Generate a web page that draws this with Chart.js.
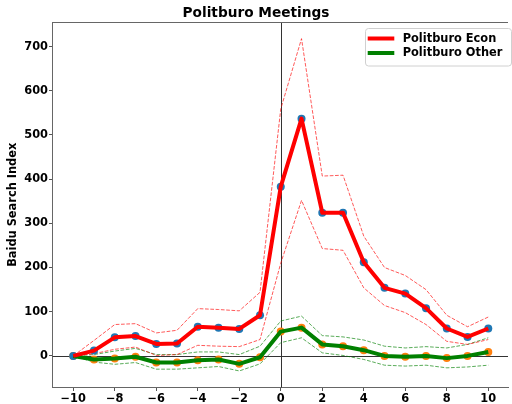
<!DOCTYPE html>
<html>
<head>
<meta charset="utf-8">
<script src="https://cdn.jsdelivr.net/npm/chart.js@4/dist/chart.umd.min.js"></script>
<style>
html,body{margin:0;padding:0;background:#fff;overflow:hidden;}
#wrap{width:512px;height:404px;position:relative;}
</style>
</head>
<body>
<div id="wrap"><canvas id="c" width="512" height="404"></canvas></div>
<script>
// ---- data ----
const days = [-10,-9,-8,-7,-6,-5,-4,-3,-2,-1,0,1,2,3,4,5,6,7,8,9,10];
const econMean  = [0, 12, 42, 45, 27, 28, 66, 64, 61, 92, 383, 537, 324, 324, 212, 154, 141, 108, 62, 43, 62];
const econUpper = [0, 35, 71, 73, 52, 58, 107, 105, 102, 144, 559, 718, 407, 409, 271, 200, 182, 150, 92, 66, 88];
const econLower = [0, 5, 15, 20, 1, 3, 24, 22, 21, 37, 210, 352, 243, 239, 154, 114, 98, 71, 33, 26, 37];
const otherMean  = [0, -8, -6, -2, -15, -15, -10, -8, -18, -3, 55, 64, 26, 22, 13, 0, -2, 0, -5, 0, 9];
const otherUpper = [0, 3, 11, 17, 3, 3, 9, 9, 3, 22, 79, 90, 46, 43, 36, 22, 18, 21, 18, 26, 41];
const otherLower = [0, -14, -19, -15, -30, -30, -27, -24, -34, -18, 30, 41, 7, 1, -8, -21, -23, -21, -27, -25, -21];
const xTicks = [-10,-8,-6,-4,-2,0,2,4,6,8,10];
const yTicks = [0,100,200,300,400,500,600,700];
const seriesNames = ['Politburo Econ','Politburo Other'];
const chartTitle = 'Politburo Meetings';
const yTitle = 'Baidu Search Index';

const pts = arr => arr.map((v,i)=>({x:days[i], y:v}));
const FONT = "'DejaVu Sans', sans-serif";

const lineDs = (label, data, color, order) => ({
  label, data: pts(data), borderColor: color, backgroundColor: color,
  borderWidth: 4, pointRadius: 0, pointHoverRadius: 0, tension: 0,
  borderJoinStyle: 'round', borderCapStyle: 'butt', order
});
const dashDs = (data, color, order) => ({
  label: '_band', data: pts(data), borderColor: color, borderWidth: 1,
  borderDash: [3.7, 1.6], pointRadius: 0, tension: 0, order
});
const markDs = (data, color, order) => ({
  label: '_mark', data: pts(data), showLine: false, pointRadius: 4,
  pointBackgroundColor: color, pointBorderWidth: 0, order
});

const overlay = {
  id: 'overlay',
  beforeDatasetsDraw(chart) {
    const {ctx, chartArea: a, scales: {x, y}} = chart;
    ctx.save();
    ctx.strokeStyle = '#333';
    ctx.lineWidth = 1;
    const x0 = Math.round(x.getPixelForValue(0)) + 0.5;
    const y0 = Math.round(y.getPixelForValue(0)) + 0.5;
    ctx.beginPath();
    ctx.moveTo(x0, a.top); ctx.lineTo(x0, a.bottom);
    ctx.moveTo(a.left, y0); ctx.lineTo(a.right, y0);
    ctx.stroke();
    // top spine
    ctx.strokeStyle = '#666';
    ctx.beginPath();
    ctx.moveTo(a.left, Math.round(a.top) + 0.5); ctx.lineTo(a.right, Math.round(a.top) + 0.5);
    ctx.stroke();
    ctx.restore();
  },
  afterDraw(chart) {
    const ctx = chart.ctx;
    ctx.save();
    // legend box
    const bx = 365.5, by = 28.5, bw = 146, bh = 37.5, r = 3;
    ctx.fillStyle = 'rgba(255,255,255,0.85)';
    ctx.strokeStyle = '#d0d0d0';
    ctx.lineWidth = 1;
    ctx.beginPath();
    ctx.moveTo(bx + r, by); ctx.lineTo(bx + bw - r, by); ctx.arcTo(bx + bw, by, bx + bw, by + r, r);
    ctx.lineTo(bx + bw, by + bh - r); ctx.arcTo(bx + bw, by + bh, bx + bw - r, by + bh, r);
    ctx.lineTo(bx + r, by + bh); ctx.arcTo(bx, by + bh, bx, by + bh - r, r);
    ctx.lineTo(bx, by + r); ctx.arcTo(bx, by, bx + r, by, r);
    ctx.closePath(); ctx.fill(); ctx.stroke();
    const items = [[seriesNames[0], '#ff0000', 38.5], [seriesNames[1], '#008000', 53]];
    ctx.font = "bold 11.4px " + FONT;
    ctx.textBaseline = 'middle';
    ctx.textAlign = 'left';
    for (const [t, c, yy] of items) {
      ctx.strokeStyle = c; ctx.lineWidth = 4;
      ctx.beginPath(); ctx.moveTo(367.7, yy); ctx.lineTo(394.3, yy); ctx.stroke();
      ctx.fillStyle = '#000';
      ctx.fillText(t, 402.7, yy + 0.5);
    }
    ctx.restore();
  }
};

new Chart(document.getElementById('c'), {
  type: 'line',
  data: {
    datasets: [
      lineDs(seriesNames[0], econMean, '#ff0000', 1),
      lineDs(seriesNames[1], otherMean, '#008000', 1),
      dashDs(econUpper, 'rgba(255,0,0,0.65)', 3),
      dashDs(econLower, 'rgba(255,0,0,0.65)', 3),
      dashDs(otherUpper, 'rgba(0,128,0,0.65)', 3),
      dashDs(otherLower, 'rgba(0,128,0,0.65)', 3),
      markDs(econMean, '#1f77b4', 2),
      markDs(otherMean, '#ff7f0e', 2)
    ]
  },
  options: {
    responsive: false,
    animation: false,
    events: [],
    layout: {padding: 0},
    plugins: {
      legend: {display: false},
      tooltip: {enabled: false},
      title: {
        display: true, text: chartTitle, color: '#000',
        font: {family: FONT, size: 13.7, weight: 'bold', lineHeight: 1.2},
        padding: {top: 4.8, bottom: 0.8}
      }
    },
    scales: {
      x: {
        type: 'linear', min: -11, max: 10.95,
        afterBuildTicks: s => { s.ticks = xTicks.map(v => ({value: v})); },
        afterFit: s => { s.height = 16.5; },
        grid: {display: true, drawOnChartArea: false, drawTicks: true, tickLength: 3.5, color: '#555'},
        border: {display: true, color: '#666', width: 1},
        ticks: {
          color: '#000', padding: 1.5, maxRotation: 0, autoSkip: false,
          font: {family: FONT, size: 11.4, weight: 'bold'},
          callback: v => (v < 0 ? '\u2212' + Math.abs(v) : String(v))
        }
      },
      y: {
        type: 'linear', min: -71.5, max: 755.6,
        afterBuildTicks: s => { s.ticks = yTicks.map(v => ({value: v})); },
        afterFit: s => { s.width = 52.5; },
        grid: {display: true, drawOnChartArea: false, drawTicks: true, tickLength: 3.5, color: '#555'},
        border: {display: true, color: '#666', width: 1},
        title: {
          display: true, text: yTitle, color: '#000',
          font: {family: FONT, size: 11.4, weight: 'bold', lineHeight: 1.2},
          padding: {top: 6.5, bottom: 0}
        },
        ticks: {
          color: '#000', padding: 1,
          font: {family: FONT, size: 11.4, weight: 'bold'}
        }
      }
    }
  },
  plugins: [overlay]
});
</script>
</body>
</html>
